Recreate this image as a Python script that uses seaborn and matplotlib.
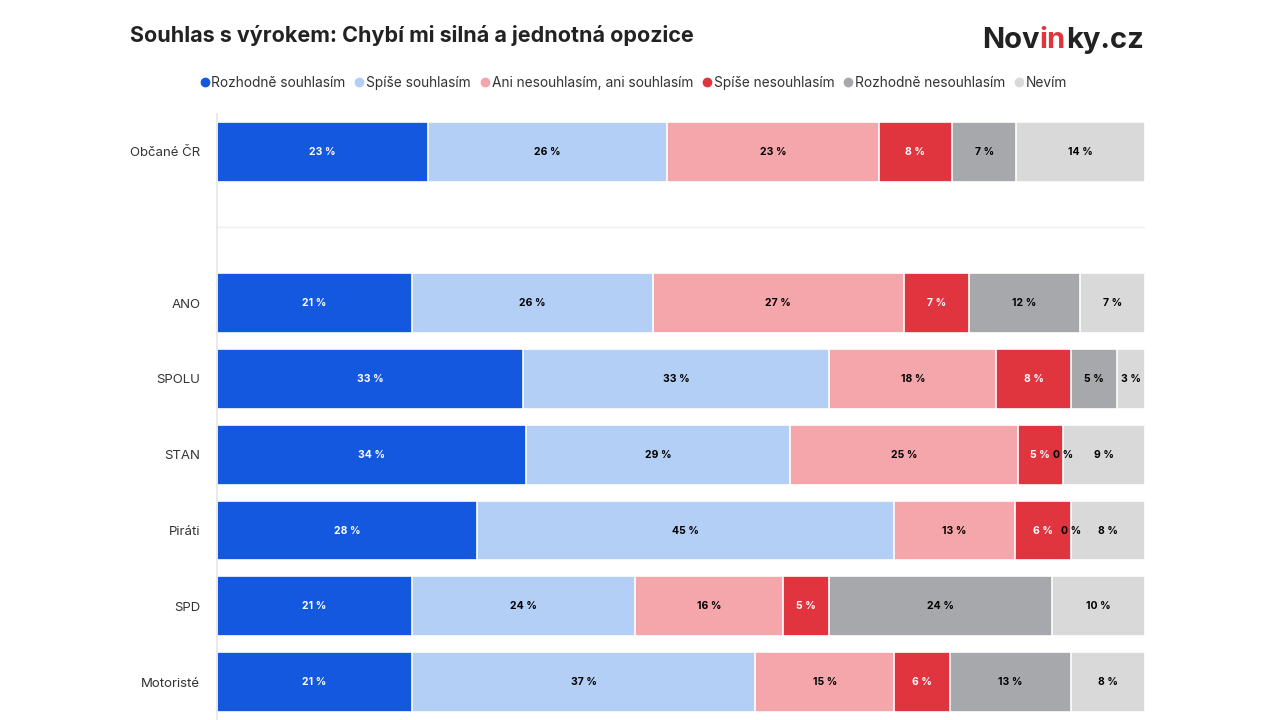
import numpy as np
import pandas as pd
import matplotlib
matplotlib.use("Agg")
import matplotlib.pyplot as plt
import seaborn as sns

# Data
groups = ["Občané ČR", " ", "ANO", "SPOLU", "STAN", "Piráti", "SPD", "Motoristé"]
answers = ["Rozhodně souhlasím", "Spíše souhlasím", "Ani nesouhlasím, ani souhlasím",
           "Spíše nesouhlasím", "Rozhodně nesouhlasím", "Nevím"]
values = {
    "Občané ČR": [23, 26, 23, 8, 7, 14],
    "ANO": [21, 26, 27, 7, 12, 7],
    "SPOLU": [33, 33, 18, 8, 5, 3],
    "STAN": [34, 29, 25, 5, 0, 9],
    "Piráti": [28, 45, 13, 6, 0, 8],
    "SPD": [21, 24, 16, 5, 24, 10],
    "Motoristé": [21, 37, 15, 6, 13, 8],
}
colors = ["#1558e0", "#b3cff5", "#f4a6aa", "#e0353f", "#a6a8ab", "#d9d9d9"]
text_colors = ["white", "black", "black", "white", "black", "black"]

sns.set_theme(style="white")
plt.rcParams['font.family'] = ['Inter', 'DejaVu Sans']

rows = []
for g in groups:
    if g not in values:
        continue
    v = np.array(values[g], dtype=float)
    share = v / v.sum() * 100
    cum = np.cumsum(share)
    for i, a in enumerate(answers):
        rows.append({"group": g, "answer": a, "value": v[i],
                     "start": cum[i] - share[i], "end": cum[i]})
df = pd.DataFrame(rows)

fig = plt.figure(figsize=(12.8, 7.2), dpi=100)
ax = fig.add_axes([0.1695, 0.0, 0.725, 0.842])

# stacked bars: draw cumulative ends from last answer to first
for i in range(len(answers) - 1, -1, -1):
    sub = df[df["answer"] == answers[i]]
    sns.barplot(data=sub, x="end", y="group", order=groups, orient="h",
                color=colors[i], width=0.79, edgecolor="white", linewidth=1.2,
                saturation=1, ax=ax)

ypos = {g: k for k, g in enumerate(groups)}
for _, r in df.iterrows():
    i = answers.index(r["answer"])
    ax.text((r["start"] + r["end"]) / 2, ypos[r["group"]], f"{int(r['value'])} %",
            ha="center", va="center", fontsize=7.5, fontweight="bold",
            color=text_colors[i])

ax.set_xlim(0, 100)
ax.set_ylim(7.5, -0.5)
ax.set_xlabel("")
ax.set_ylabel("")
ax.set_xticks([])
ax.tick_params(axis="y", length=0, pad=12, labelsize=9.5, labelcolor="#333333")
for s in ["top", "right", "bottom"]:
    ax.spines[s].set_visible(False)
ax.spines["left"].set_color("#e6e6e6")
ax.axhline(1.0, color="#eeeeee", lw=1, zorder=0)

fig.text(130 / 1280, 1 - 35 / 720, "Souhlas s výrokem: Chybí mi silná a jednotná opozice",
         fontsize=15.5, fontweight="bold", color="#222222", va="center")

# logo
x0 = 982 / 1280
t = fig.text(x0, 1 - 40 / 720, "Nov", fontsize=21, fontweight="bold", color="#222222", va="center")
fig.canvas.draw()
r = fig.canvas.get_renderer()
bb = t.get_window_extent(r)
t2 = fig.text(bb.x1 / 1280, 1 - 40 / 720, "in", fontsize=21, fontweight="bold", color="#e0353f", va="center")
bb2 = t2.get_window_extent(r)
fig.text(bb2.x1 / 1280, 1 - 40 / 720, "ky.cz", fontsize=21, fontweight="bold", color="#222222", va="center")

# legend
handles = [plt.Line2D([], [], marker="o", ls="", color=c, markersize=6) for c in colors]
fig.legend(handles, answers, loc="center", bbox_to_anchor=(0.494, 1 - 83 / 720), ncol=6,
           frameon=False, fontsize=9.9, handletextpad=0.0, columnspacing=0.5,
           handlelength=1.0, labelcolor="#333333")

fig.savefig("out.png", dpi=100)
